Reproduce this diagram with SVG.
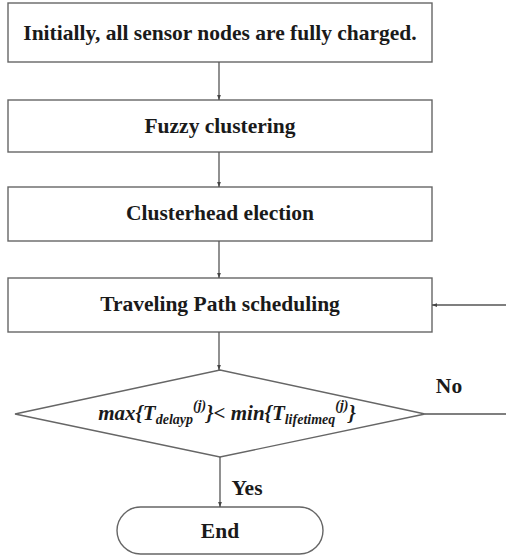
<svg xmlns="http://www.w3.org/2000/svg" width="506" height="559" viewBox="0 0 506 559">
<defs>
<marker id="ah" viewBox="0 0 8 8" refX="8" refY="4" markerWidth="5" markerHeight="5" orient="auto" markerUnits="userSpaceOnUse">
<path d="M0,1 L8,4 L0,7 Z" fill="#444"/>
</marker>
<style>
.box{fill:#fff;stroke:#666;stroke-width:1.4}
.t{font-family:"Liberation Serif","Times New Roman",serif;font-weight:bold;font-size:21.5px;fill:#1a1a1a;text-anchor:middle}
.f{font-family:"Liberation Serif","Times New Roman",serif;font-weight:bold;font-style:italic;fill:#1a1a1a}
.c{fill:none;stroke:#555;stroke-width:1.3}
</style>
</defs>
<rect width="506" height="559" fill="#fff"/>
<g id="n1"><rect class="box" x="8" y="3" width="424" height="59"/><text class="t" x="220" y="40">Initially, all sensor nodes are fully charged.</text></g>
<g id="n2"><rect class="box" x="8" y="100" width="424" height="52"/><text class="t" x="220" y="133">Fuzzy clustering</text></g>
<g id="n3"><rect class="box" x="8" y="187" width="424" height="54"/><text class="t" x="220" y="220">Clusterhead election</text></g>
<g id="n4"><rect class="box" x="8" y="278" width="424" height="54"/><text class="t" x="220" y="311">Traveling Path scheduling</text></g>
<g id="n5"><polygon class="box" points="220,370 425,414 220,457 15,414"/>
<text class="f" x="227" y="420" text-anchor="middle" font-size="21">max{T<tspan font-size="14" dy="4">delayp</tspan><tspan font-size="14" dy="-14">(j)</tspan><tspan dy="10">}&lt; min{T</tspan><tspan font-size="14" dy="4">lifetimeq</tspan><tspan font-size="14" dy="-14">(j)</tspan><tspan dy="10">}</tspan></text></g>
<g id="n6"><rect class="box" x="117" y="507" width="206" height="47" rx="23.5" ry="23.5"/><text class="t" x="220" y="538">End</text></g>
<g id="connectors">
<line class="c" x1="219" y1="62" x2="219" y2="100" marker-end="url(#ah)"/>
<line class="c" x1="219" y1="152" x2="219" y2="187" marker-end="url(#ah)"/>
<line class="c" x1="219" y1="241" x2="219" y2="278" marker-end="url(#ah)"/>
<line class="c" x1="219" y1="332" x2="219" y2="370" marker-end="url(#ah)"/>
<line class="c" x1="220" y1="457" x2="220" y2="507" marker-end="url(#ah)"/>
<line class="c" x1="425" y1="414" x2="506" y2="414"/>
<line class="c" x1="506" y1="305" x2="432" y2="305" marker-end="url(#ah)"/>
<text class="t" x="449" y="393">No</text>
<text class="t" x="247" y="495">Yes</text>
</g>
</svg>
